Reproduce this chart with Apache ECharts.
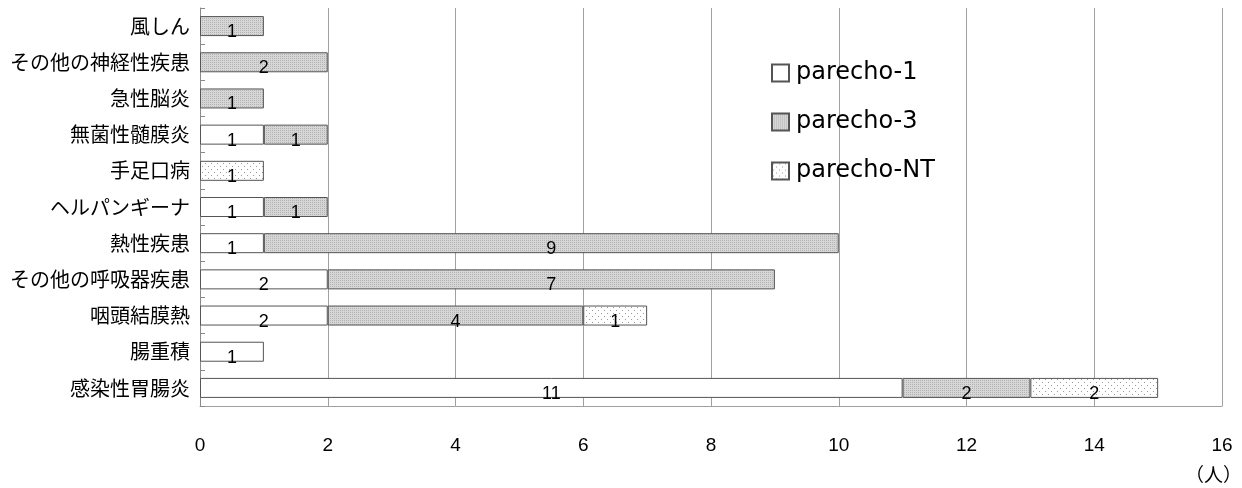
<!DOCTYPE html>
<html><head><meta charset="utf-8">
<script src="https://cdn.jsdelivr.net/npm/echarts@6/dist/echarts.min.js"></script>
<style>html,body{margin:0;padding:0;background:#fff}#c{width:1242px;height:488px}</style>
</head><body><div id="c"></div>
<script>
const categories = ['感染性胃腸炎','腸重積','咽頭結膜熱','その他の呼吸器疾患','熱性疾患','ヘルパンギーナ','手足口病','無菌性髄膜炎','急性脳炎','その他の神経性疾患','風しん'];
const parecho1 = [11,1,2,2,1,1,null,1,null,null,null];
const parecho3 = [2,null,4,7,9,1,null,1,1,2,1];
const parechoNT = [2,null,1,null,null,null,1,null,null,null,null];
const xTicks = [0,2,4,6,8,10,12,14,16];

function pattern(bg, dot, size, dots){
  const c = document.createElement('canvas'); c.width = size; c.height = size;
  const g = c.getContext('2d'); g.fillStyle = bg; g.fillRect(0,0,size,size);
  g.fillStyle = dot; dots.forEach(d => g.fillRect(d[0], d[1], 1, 1));
  return {image: c, repeat: 'repeat'};
}
const pat3 = pattern('#d6d6d6', '#b4b4b4', 4, [[0,0],[2,2],[0,2],[2,0]]);
const patNT = pattern('#ffffff', '#9a9a9a', 6, [[1,1],[4,4]]);

const font = '"Noto Sans CJK JP", sans-serif';
const numFont = '"Liberation Sans", sans-serif';
const legFont = '"DejaVu Sans", sans-serif';
const label = {show: true, position: 'inside', offset: [0, 6], color: '#000', fontSize: 18, fontFamily: numFont};
const common = {type: 'bar', stack: 's', barWidth: 20, label: label};

const chart = echarts.init(document.getElementById('c'), null, {renderer: 'canvas'});
chart.setOption({
  animation: false,
  grid: {left: 200, right: 20, top: 8, bottom: 82},
  legend: {
    orient: 'vertical', left: 766, top: 56, itemWidth: 17, itemHeight: 17, itemGap: 25,
    icon: 'rect',
    textStyle: {fontSize: 24, fontFamily: legFont, color: '#000', padding: [8,0,0,2]},
    data: ['parecho-1','parecho-3','parecho-NT']
  },
  xAxis: {
    type: 'value', min: 0, max: 16, interval: 2,
    axisLine: {show: true, lineStyle: {color: '#a0a0a0'}},
    axisTick: {show: false},
    splitLine: {show: true, lineStyle: {color: '#a0a0a0', width: 1}},
    axisLabel: {fontSize: 19, fontFamily: numFont, color: '#000', margin: 30,
      formatter: v => xTicks.includes(v) ? String(v) : ''}
  },
  yAxis: {
    type: 'category', data: categories,
    axisLine: {show: true, lineStyle: {color: '#8a8a8a'}},
    axisTick: {show: true, inside: true, length: 5, lineStyle: {color: '#8a8a8a'}},
    axisLabel: {fontSize: 20, fontFamily: font, color: '#000', margin: 10}
  },
  graphic: [{type: 'text', right: 0, top: 465, style: {text: '（人）', fontSize: 19, fontFamily: font, fill: '#000'}}],
  series: [
    Object.assign({name: 'parecho-1', data: parecho1, itemStyle: {color: '#ffffff', borderColor: '#555', borderWidth: 1}}, common),
    Object.assign({name: 'parecho-3', data: parecho3, itemStyle: {color: pat3, borderColor: '#555', borderWidth: 1}}, common),
    Object.assign({name: 'parecho-NT', data: parechoNT, itemStyle: {color: patNT, borderColor: '#555', borderWidth: 1}}, common)
  ]
});
</script></body></html>
